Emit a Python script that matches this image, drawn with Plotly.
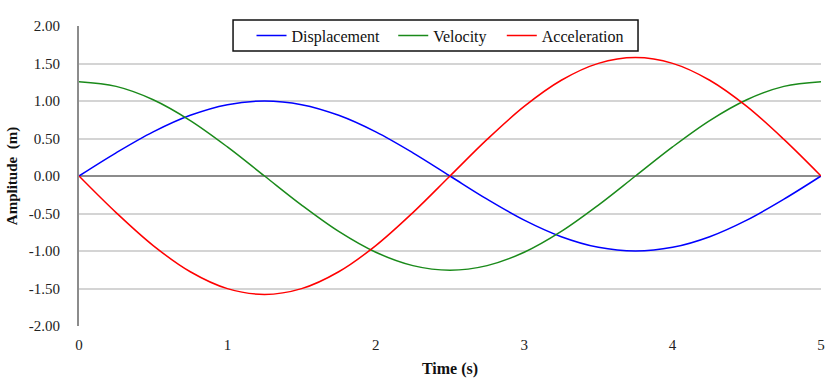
import plotly.graph_objects as go

# Sample times (s)
time_s = [0.0, 0.25, 0.5, 0.75, 1.0, 1.25, 1.5, 1.75, 2.0, 2.25, 2.5,
          2.75, 3.0, 3.25, 3.5, 3.75, 4.0, 4.25, 4.5, 4.75, 5.0]

displacement = [0.000, 0.309, 0.588, 0.809, 0.951, 1.000, 0.951, 0.809, 0.588, 0.309, 0.000,
                -0.309, -0.588, -0.809, -0.951, -1.000, -0.951, -0.809, -0.588, -0.309, 0.000]

velocity = [1.257, 1.195, 1.017, 0.739, 0.388, 0.000, -0.388, -0.739, -1.017, -1.195, -1.257,
            -1.195, -1.017, -0.739, -0.388, 0.000, 0.388, 0.739, 1.017, 1.195, 1.257]

acceleration = [0.000, -0.488, -0.928, -1.277, -1.502, -1.579, -1.502, -1.277, -0.928, -0.488, 0.000,
                0.488, 0.928, 1.277, 1.502, 1.579, 1.502, 1.277, 0.928, 0.488, 0.000]

x_ticks = [0, 1, 2, 3, 4, 5]
y_ticks = [-2.0, -1.5, -1.0, -0.5, 0.0, 0.5, 1.0, 1.5, 2.0]
y_tick_text = ["-2.00", "-1.50", "-1.00", "-0.50", "0.00", "0.50", "1.00", "1.50", "2.00"]

FONT = "Liberation Serif, Times New Roman, serif"

series = [
    ("Displacement", displacement, "#0000ff", "legend", 0.2325),
    ("Velocity", velocity, "#1a8a1a", "legend2", 0.4235),
    ("Acceleration", acceleration, "#ff0000", "legend3", 0.5698),
]

fig = go.Figure()
for name, values, color, legend_id, _ in series:
    fig.add_trace(go.Scatter(
        x=time_s, y=values, name=name, mode="lines", legend=legend_id,
        line=dict(color=color, width=1.5, shape="spline", smoothing=1.0),
    ))

# One borderless legend per series, sitting inside a shared white frame
legend_style = dict(
    orientation="h", y=0.968, yanchor="middle", xanchor="left",
    bgcolor="rgba(0,0,0,0)", borderwidth=0,
    font=dict(family=FONT, size=16, color="#111"), itemwidth=30,
)
legends = {legend_id: dict(legend_style, x=lx) for _, _, _, legend_id, lx in series}

fig.add_shape(
    type="rect", xref="paper", yref="paper",
    x0=0.2076, x1=0.7534, y0=0.9167, y1=1.02,
    line=dict(color="#111", width=1.5), fillcolor="white", layer="above",
)

fig.update_layout(
    width=826, height=378,
    margin=dict(l=79, r=5, t=26, b=52, autoexpand=False),
    paper_bgcolor="white", plot_bgcolor="white",
    font=dict(family=FONT, size=15, color="#222"),
    showlegend=True,
    **legends,
    xaxis=dict(
        range=[0, 5], tickmode="array", tickvals=x_ticks,
        ticktext=[str(v) for v in x_ticks],
        showgrid=False, zeroline=False, showline=False,
        ticks="", ticklabelstandoff=8, ticklabeloverflow="allow",
        tickfont=dict(family=FONT, size=15, color="#222"),
        title=dict(text="<b>Time (s)</b>", standoff=10,
                   font=dict(family=FONT, size=16, color="#111")),
    ),
    yaxis=dict(
        range=[-2.0, 2.0], tickmode="array", tickvals=y_ticks, ticktext=y_tick_text,
        showgrid=True, gridcolor="#d4d4d4", gridwidth=1.5,
        zeroline=True, zerolinecolor="#8c8c8c", zerolinewidth=2,
        showline=True, linecolor="#8c8c8c", linewidth=2,
        ticks="", ticklabelstandoff=14,
        tickfont=dict(family=FONT, size=15, color="#222"),
        title=dict(text="<b>Amplitude\u00a0 (m)</b>", standoff=8,
                   font=dict(family=FONT, size=15, color="#111")),
    ),
)

fig.write_html("out.html")
